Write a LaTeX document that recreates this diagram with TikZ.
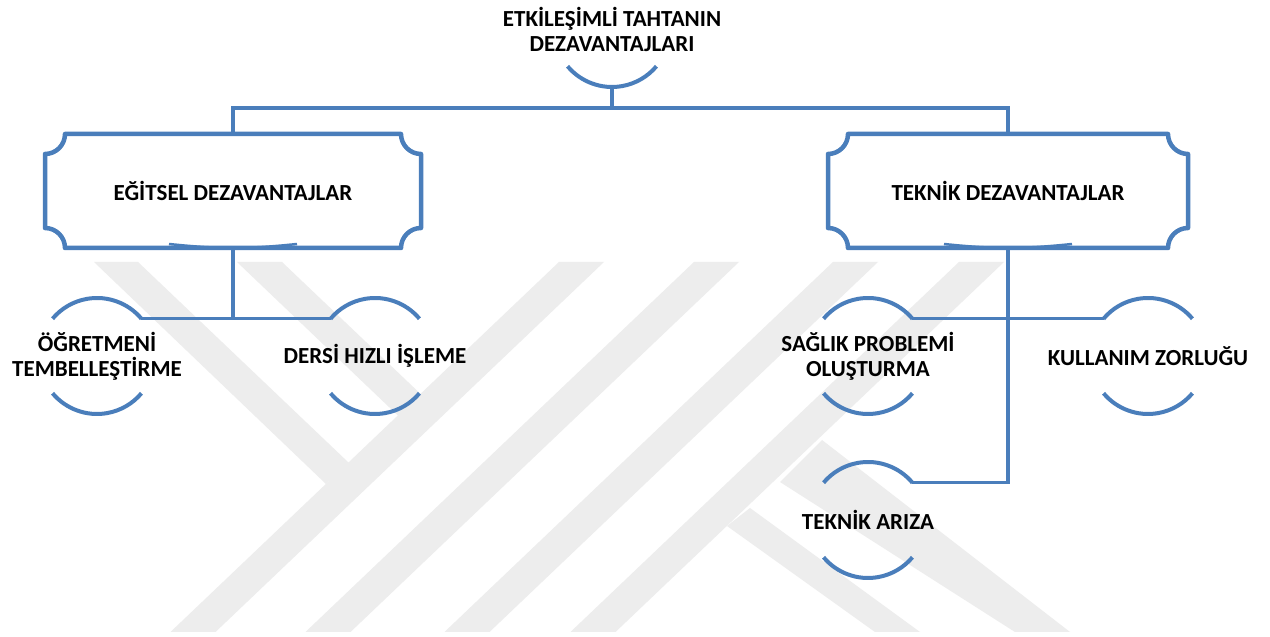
\documentclass[tikz,border=0pt]{standalone}
\usepackage{fontspec}
\setmainfont{Carlito}
\usetikzlibrary{calc}
\definecolor{lineblue}{HTML}{4A7EBB}
\definecolor{wmgray}{HTML}{EDEDED}
\tikzset{
  link/.style={draw=lineblue, line width=3.5pt},
  arcline/.style={draw=lineblue, line width=4pt},
  boxline/.style={draw=lineblue, line width=4.5pt, line join=round},
  wm/.style={fill=wmgray},
  lbl/.style={font=\fontsize{23}{25}\selectfont\bfseries, align=center, inner sep=0pt, outer sep=0pt},
  plaque/.style={lbl, minimum height=114pt},
}
% border with hollow corners
\newcommand{\plaqueborder}[1]{%
  \draw[boxline] ([xshift=20pt]#1.north west) -- ([xshift=-20pt]#1.north east)
    arc[start angle=180,end angle=270,radius=20pt] -- ([yshift=20pt]#1.south east)
    arc[start angle=90,end angle=180,radius=20pt] -- ([xshift=20pt]#1.south west)
    arc[start angle=0,end angle=90,radius=20pt] -- ([yshift=-20pt]#1.north west)
    arc[start angle=270,end angle=360,radius=20pt] -- cycle;
  \draw[boxline, line width=2.5pt] ([xshift=-64pt,yshift=4pt]#1.south) to[bend right=6] ([xshift=64pt,yshift=4pt]#1.south);
}
\begin{document}
\begin{tikzpicture}[x=1pt,y=1pt]
    \fill[white] (0,0) rectangle (1270,637);
    \useasboundingbox (0,0) rectangle (1270,637);
    % watermark
    \fill[wm] (559,375) -- (604,375) -- (215.5,5) -- (170.5,5) -- cycle;
    \fill[wm] (694,375) -- (739,375) -- (350.5,5) -- (305.5,5) -- cycle;
    \fill[wm] (833,375) -- (878,375) -- (489.5,5) -- (444.5,5) -- cycle;
    \fill[wm] (959,375) -- (1004,375) -- (615.5,5) -- (570.5,5) -- cycle;
    \fill[wm] (94,375) -- (138,375) -- (349,174) -- (326,153) -- cycle;
    \fill[wm] (237,375) -- (282,375) -- (420.6,243) -- (398,221.4) -- cycle;
    \fill[wm] (822,197) -- (1070,5) -- (1015,5) -- (780,155) -- cycle;
    \fill[wm] (750,129) -- (920,5) -- (875,5) -- (727,111) -- cycle;

    \node[lbl] (title) at (612,608) {ETKİLEŞİMLİ TAHTANIN\\DEZAVANTAJLARI};
    \node[plaque, minimum width=376pt] (edu) at (233,446) {EĞİTSEL DEZAVANTAJLAR};
    \node[plaque, minimum width=360pt] (tech) at (1008,446) {TEKNİK DEZAVANTAJLAR};
    \node[lbl] (lazy) at (97,281) {ÖĞRETMENİ\\TEMBELLEŞTİRME};
    \node[lbl] (fast) at (375,281) {DERSİ HIZLI İŞLEME};
    \node[lbl] (health) at (868,281) {SAĞLIK PROBLEMİ\\OLUŞTURMA};
    \node[lbl] (usage) at (1148,281) {KULLANIM ZORLUĞU};
    \node[lbl] (fault) at (868,117) {TEKNİK ARIZA};

    \plaqueborder{edu}
    \plaqueborder{tech}
    \draw[arcline] ([shift={(220:58pt)}]title.center) arc[start angle=220,end angle=320,radius=58pt];
    \foreach \n in {lazy,fast,health,usage,fault}{
        \coordinate (\n-r) at ([shift={(40:58pt)}]\n.center);
        \coordinate (\n-l) at ([shift={(140:58pt)}]\n.center);
        \draw[arcline] (\n-r) arc[start angle=40,end angle=140,radius=58pt];
        \draw[arcline] ([shift={(220:58pt)}]\n.center) arc[start angle=220,end angle=320,radius=58pt];
    }

    \draw[link] ([yshift=-58pt]title.center) -- ([yshift=-79pt]title.center);
    \draw[link] (edu.north) |- ([yshift=-79pt]title.center) -| (tech.north);
    \draw[link] (edu.south) -- (edu.south |- lazy-r);
    \draw[link] (lazy-r) -- (fast-l);
    \draw[link] (tech.south) |- (fault-r);
    \draw[link] (health-r) -- (usage-l);
\end{tikzpicture}
\end{document}
